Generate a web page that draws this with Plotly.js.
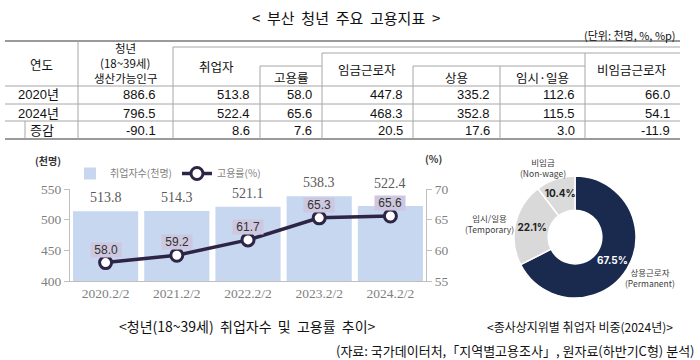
<!DOCTYPE html>
<html>
<head>
<meta charset="utf-8">
<script src="https://cdn.plot.ly/plotly-3.0.1.min.js"></script>
<style>html,body{margin:0;padding:0;background:#fff;}#chart{width:700px;height:360px;}</style>
</head>
<body>
<div id="chart"></div>
<script>
// ---------- DATA ----------
// Table: 부산 청년 주요 고용지표
const tableRows = ['2020년', '2024년', '증감'];
const youthPopulation = [886.6, 796.5, -90.1];
const employedPersons = [513.8, 522.4, 8.6];
const employmentRate = [58.0, 65.6, 7.6];
const wageWorkers = [447.8, 468.3, 20.5];
const regularWorkers = [335.2, 352.8, 17.6];
const tempDailyWorkers = [112.6, 115.5, 3.0];
const nonWageWorkers = [66.0, 54.1, -11.9];

// Combo chart: 청년 취업자수 및 고용률 추이
const periods = ['2020.2/2', '2021.2/2', '2022.2/2', '2023.2/2', '2024.2/2'];
const employedTrend = [513.8, 514.3, 521.1, 538.3, 522.4];
const rateTrend = [58.0, 59.2, 61.7, 65.3, 65.6];

// Donut: 종사상지위별 취업자 비중(2024년)
const statusLabelsKo = ['상용근로자', '임시/일용', '비임금'];
const statusLabelsEn = ['Permanent', 'Temporary', 'Non-wage'];
const statusShares = [67.5, 22.1, 10.4];

// ---------- HELPERS ----------
const W = 700, H = 360;
const X = p => p / W;
const Y = p => 1 - p / H;
const KR = 'Noto Sans CJK KR';
const NUM = 'Liberation Sans, Noto Sans CJK KR';
const SERIF = 'Liberation Serif, DejaVu Serif, serif';
const NB = '\u00A0';

const shapes = [];
const annotations = [];
function hline(y, x0, x1, w, c) {
  shapes.push({type: 'line', xref: 'paper', yref: 'paper', x0: X(x0), x1: X(x1), y0: Y(y), y1: Y(y),
    line: {color: c || '#a6a6a6', width: w || 1}});
}
function vline(x, y0, y1, w, c) {
  shapes.push({type: 'line', xref: 'paper', yref: 'paper', x0: X(x), x1: X(x), y0: Y(y0), y1: Y(y1),
    line: {color: c || '#a6a6a6', width: w || 1}});
}
function txt(text, x, y, opts) {
  opts = opts || {};
  annotations.push(Object.assign({
    text: text, xref: 'paper', yref: 'paper', x: X(x), y: Y(y), showarrow: false,
    xanchor: 'center', yanchor: 'middle',
    font: {family: KR, size: 12, color: '#111'}
  }, opts));
}

// ---------- TITLE ----------
txt('<' + NB + NB + '부산' + NB + NB + '청년' + NB + NB + '주요' + NB + NB + '고용지표' + NB + NB + '>', 346, 17,
  {font: {family: KR, size: 15, color: '#111'}});
txt('(단위: 천명, %, %p)', 678, 35, {xanchor: 'right', font: {family: KR, size: 11, color: '#111'}});

// ---------- TABLE ----------
const TL = 5, TR = 680;
hline(41, TL, TR, 2, '#9a9a9a');
hline(47, 173, TR, 1);
hline(53, 322, TR, 1);
hline(66, 260, 322, 1);
hline(66, 413, 585, 1);
hline(86, TL, TR, 1);
hline(104, TL, TR, 1);
hline(121, TL, TR, 1);
hline(139, TL, TR, 2, '#9a9a9a');
vline(78, 41, 139);
vline(173, 47, 139);
vline(260, 66, 139);
vline(322, 53, 139);
vline(413, 66, 139);
vline(500, 66, 139);
vline(585, 53, 139);
vline(25, 121, 139);

const hf = {family: KR, size: 12.5, color: '#111'};
const hs = {family: KR, size: 11.5, color: '#111'};
txt('연도', 41, 64, {font: hf});
txt('청년', 125, 48, {font: hs, borderpad: 0});
txt('(18~39세)', 125, 63, {font: hs, borderpad: 0});
txt('생산가능인구', 125, 78, {font: hs, borderpad: 0});
txt('취업자', 216, 66, {font: hf});
txt('고용률', 291, 77, {font: hf});
txt('임금근로자', 367, 70, {font: hf});
txt('상용', 456, 77, {font: hf});
txt('임시·일용', 542, 77, {font: hf});
txt('비임금근로자', 632, 70, {font: hf});

const rowY = [95, 113, 130];
const cols = [youthPopulation, employedPersons, employmentRate, wageWorkers, regularWorkers, tempDailyWorkers, nonWageWorkers];
const colRight = [158, 252, 314, 405, 492, 577, 672];
const nf = {family: NUM, size: 13, color: '#111'};
tableRows.forEach((r, i) => {
  txt(r, i === 2 ? 42 : 38, rowY[i], {font: nf});
  cols.forEach((c, j) => {
    txt(c[i].toFixed(1), colRight[j], rowY[i], {xanchor: 'right', font: nf});
  });
});

// ---------- COMBO CHART ----------
const PLOT_TOP = 189, PLOT_BOTTOM = 281;
const yRange = [400, 550], y2Range = [55, 70];
const barTrace = {
  type: 'bar', name: '취업자수(천명)', x: periods, y: employedTrend,
  marker: {color: '#c6d7ef'}, xaxis: 'x', yaxis: 'y', hoverinfo: 'x+y'
};
const lineTrace = {
  type: 'scatter', mode: 'lines+markers', name: '고용률(%)', x: periods, y: rateTrend,
  xaxis: 'x', yaxis: 'y2', cliponaxis: false,
  line: {color: '#2e2445', width: 3.5},
  marker: {size: 12, color: '#ffffff', line: {color: '#2e2445', width: 3}}
};
// label placement: keep bar value labels clear of the rate label boxes
const LINE_LABEL_SHIFT = 13, LINE_BOX_HALF = 8;
const pxOfY = v => PLOT_TOP + (yRange[1] - v) / (yRange[1] - yRange[0]) * (PLOT_BOTTOM - PLOT_TOP);
const pxOfY2 = v => PLOT_TOP + (y2Range[1] - v) / (y2Range[1] - y2Range[0]) * (PLOT_BOTTOM - PLOT_TOP);
employedTrend.forEach((v, i) => {
  const barTop = pxOfY(v);
  const boxTop = pxOfY2(rateTrend[i]) - LINE_LABEL_SHIFT - LINE_BOX_HALF;
  const shift = Math.max(4, barTop - boxTop + 2);
  annotations.push({x: periods[i], y: v, xref: 'x', yref: 'y', yanchor: 'bottom', yshift: shift,
    showarrow: false, text: v.toFixed(1), font: {family: SERIF, size: 14, color: '#595959'}});
});
rateTrend.forEach((v, i) => {
  annotations.push({x: periods[i], y: v, xref: 'x', yref: 'y2', yanchor: 'middle', yshift: LINE_LABEL_SHIFT,
    showarrow: false, text: NB + v.toFixed(1) + NB, bgcolor: '#cdc7df', borderpad: 0,
    font: {family: NUM, size: 12, color: '#333'}});
});
txt('(천명)', 48, 160, {font: {family: KR, size: 10, color: '#333', weight: 'bold'}});
txt('(%)', 433, 158, {font: {family: KR, size: 10, color: '#333', weight: 'bold'}});

// ---------- DONUT ----------
const pieTrace = {
  type: 'pie', labels: statusLabelsKo, values: statusShares, sort: false, direction: 'clockwise',
  rotation: 0, hole: 0.44, showlegend: false,
  domain: {x: [X(514), X(636)], y: [Y(298), Y(176)]},
  marker: {colors: ['#1a2a4f', '#d9d9d9', '#dbdbdb'], line: {color: '#ffffff', width: 1.5}},
  textinfo: 'text', text: statusShares.map(v => '<b>' + v.toFixed(1) + '%</b>'),
  textposition: 'inside', insidetextorientation: 'horizontal',
  textfont: {family: 'Inter, Noto Sans', size: 10, color: ['#ffffff', '#222222', '#222222']},
  hoverinfo: 'label+value'
};
const lblPos = [[650, 277], [490, 223], [543, 167]];
statusLabelsKo.forEach((l, i) => {
  txt(l + '<br>(' + statusLabelsEn[i] + ')', lblPos[i][0], lblPos[i][1],
    {font: {family: KR, size: 8.5, color: '#404040'}});
});

// ---------- CAPTIONS ----------
txt('<청년(18~39세)' + NB + NB + '취업자수' + NB + NB + '및' + NB + NB + '고용률' + NB + NB + '추이>', 247, 326,
  {font: {family: KR, size: 14, color: '#111'}});
txt('<종사상지위별 취업자 비중(2024년)>', 580, 326, {font: {family: KR, size: 12, color: '#111'}});
txt('(자료: 국가데이터처,「지역별고용조사」, 원자료(하반기C형) 분석)', 697, 350,
  {xanchor: 'right', font: {family: KR, size: 13, color: '#111'}});

const axisFont = {family: SERIF, size: 13.5, color: '#7f7f7f'};
const layout = {
  width: W, height: H, margin: {l: 0, r: 0, t: 0, b: 0},
  paper_bgcolor: '#ffffff', plot_bgcolor: 'rgba(0,0,0,0)',
  showlegend: true,
  legend: {orientation: 'h', x: X(70), xanchor: 'left', y: Y(159), yanchor: 'top',
    font: {family: KR, size: 10, color: '#7f7f7f'}, bgcolor: 'rgba(0,0,0,0)', traceorder: 'normal'},
  bargap: 0.085,
  uniformtext: {minsize: 10, mode: 'show'},
  xaxis: {domain: [X(70), X(426)], anchor: 'y', showline: true, linecolor: '#bfbfbf', linewidth: 1,
    ticks: '', tickfont: axisFont, showgrid: false, zeroline: false, fixedrange: true},
  yaxis: {domain: [Y(PLOT_BOTTOM), Y(PLOT_TOP)], anchor: 'x', range: yRange, dtick: 50, showline: true,
    linecolor: '#bfbfbf', ticks: 'outside', ticklen: 5, tickcolor: '#bfbfbf', tickfont: axisFont,
    showgrid: false, zeroline: false, fixedrange: true},
  yaxis2: {overlaying: 'y', side: 'right', anchor: 'x', range: y2Range, dtick: 5, showline: true,
    linecolor: '#bfbfbf', ticks: 'outside', ticklen: 5, tickcolor: '#bfbfbf', tickfont: axisFont,
    showgrid: false, zeroline: false, fixedrange: true},
  shapes: shapes,
  annotations: annotations
};

Plotly.newPlot('chart', [barTrace, lineTrace, pieTrace], layout, {displayModeBar: false, staticPlot: true});
</script>
</body>
</html>
